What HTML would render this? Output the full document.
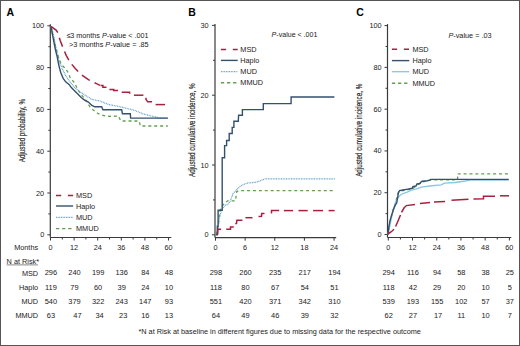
<!DOCTYPE html>
<html><head><meta charset="utf-8"><style>
html,body{margin:0;padding:0;background:#fff;}
svg{display:block;}
text{font-family:"Liberation Sans", sans-serif;fill:#222;}
</style></head><body>
<svg width="520" height="346" viewBox="0 0 520 346">
<rect x="0" y="0" width="520" height="346" fill="#fff"/>
<rect x="0.5" y="0.5" width="519" height="345" fill="none" stroke="#555" stroke-width="1"/>

<text x="6.5" y="15.6" font-size="10.5" font-weight="bold" fill="#000" style="fill:#000">A</text>
<text x="188.2" y="15.6" font-size="10.5" font-weight="bold" style="fill:#000">B</text>
<text x="356.3" y="16" font-size="10.5" font-weight="bold" style="fill:#000">C</text>
<line x1="50.3" y1="24.3" x2="50.3" y2="237.5" stroke="#3a3a3a" stroke-width="1.2"/>
<line x1="50.3" y1="237.5" x2="171.3" y2="237.5" stroke="#3a3a3a" stroke-width="1.2"/>
<line x1="47.3" y1="25.8" x2="50.3" y2="25.8" stroke="#3a3a3a" stroke-width="1"/>
<line x1="47.3" y1="67.6" x2="50.3" y2="67.6" stroke="#3a3a3a" stroke-width="1"/>
<line x1="47.3" y1="109.39999999999999" x2="50.3" y2="109.39999999999999" stroke="#3a3a3a" stroke-width="1"/>
<line x1="47.3" y1="151.2" x2="50.3" y2="151.2" stroke="#3a3a3a" stroke-width="1"/>
<line x1="47.3" y1="193.0" x2="50.3" y2="193.0" stroke="#3a3a3a" stroke-width="1"/>
<line x1="47.3" y1="234.8" x2="50.3" y2="234.8" stroke="#3a3a3a" stroke-width="1"/>
<line x1="48.3" y1="46.7" x2="50.3" y2="46.7" stroke="#3a3a3a" stroke-width="1"/>
<line x1="48.3" y1="88.5" x2="50.3" y2="88.5" stroke="#3a3a3a" stroke-width="1"/>
<line x1="48.3" y1="130.3" x2="50.3" y2="130.3" stroke="#3a3a3a" stroke-width="1"/>
<line x1="48.3" y1="172.1" x2="50.3" y2="172.1" stroke="#3a3a3a" stroke-width="1"/>
<line x1="48.3" y1="213.9" x2="50.3" y2="213.9" stroke="#3a3a3a" stroke-width="1"/>
<line x1="50.5" y1="237.5" x2="50.5" y2="240.5" stroke="#3a3a3a" stroke-width="1"/>
<line x1="74.104" y1="237.5" x2="74.104" y2="240.5" stroke="#3a3a3a" stroke-width="1"/>
<line x1="97.708" y1="237.5" x2="97.708" y2="240.5" stroke="#3a3a3a" stroke-width="1"/>
<line x1="121.312" y1="237.5" x2="121.312" y2="240.5" stroke="#3a3a3a" stroke-width="1"/>
<line x1="144.916" y1="237.5" x2="144.916" y2="240.5" stroke="#3a3a3a" stroke-width="1"/>
<line x1="168.52" y1="237.5" x2="168.52" y2="240.5" stroke="#3a3a3a" stroke-width="1"/>
<line x1="62.302" y1="237.5" x2="62.302" y2="239.5" stroke="#3a3a3a" stroke-width="1"/>
<line x1="85.906" y1="237.5" x2="85.906" y2="239.5" stroke="#3a3a3a" stroke-width="1"/>
<line x1="109.51" y1="237.5" x2="109.51" y2="239.5" stroke="#3a3a3a" stroke-width="1"/>
<line x1="133.114" y1="237.5" x2="133.114" y2="239.5" stroke="#3a3a3a" stroke-width="1"/>
<line x1="156.71800000000002" y1="237.5" x2="156.71800000000002" y2="239.5" stroke="#3a3a3a" stroke-width="1"/>
<text x="44.2" y="28.3" text-anchor="end" font-size="7.3" >100</text>
<text x="44.2" y="70.1" text-anchor="end" font-size="7.3" >80</text>
<text x="44.2" y="111.89999999999999" text-anchor="end" font-size="7.3" >60</text>
<text x="44.2" y="153.7" text-anchor="end" font-size="7.3" >40</text>
<text x="44.2" y="195.5" text-anchor="end" font-size="7.3" >20</text>
<text x="44.2" y="237.3" text-anchor="end" font-size="7.3" >0</text>
<text x="50.5" y="250" text-anchor="middle" font-size="7.3" >0</text>
<text x="74.104" y="250" text-anchor="middle" font-size="7.3" >12</text>
<text x="97.708" y="250" text-anchor="middle" font-size="7.3" >24</text>
<text x="121.312" y="250" text-anchor="middle" font-size="7.3" >36</text>
<text x="144.916" y="250" text-anchor="middle" font-size="7.3" >48</text>
<text x="168.52" y="250" text-anchor="middle" font-size="7.3" >60</text>
<text transform="translate(25.4,162.3) rotate(-90)" font-size="8.3" stroke="#222" stroke-width="0.15" textLength="63.4" lengthAdjust="spacingAndGlyphs">Adjusted probability, %</text>
<text x="66.4" y="38" font-size="7.3" textLength="82.2" lengthAdjust="spacingAndGlyphs">&#8804;3 months <tspan font-style="italic">P</tspan>-value &lt; .001</text>
<text x="69" y="47" font-size="7.3" textLength="79.6" lengthAdjust="spacingAndGlyphs">&gt;3 months <tspan font-style="italic">P</tspan>-value = .85</text>
<polyline points="50.9,26.3 53.0,36.0 56.0,48.0 58.9,58.7 61.5,64.7 64.1,67.3 67.6,71.7 70.2,77.7 74.5,82.9 78.0,89.9 82.3,95.9 86.7,101.1 90.1,107.2 91.3,108.5 98.3,113.7 103.5,115.5 108.0,116.3 118.8,116.2 119.5,118.4 121.0,121.0 139.0,121.0 139.7,123.1 140.4,126.0 167.8,126.0" stroke="#62a050" stroke-width="1.3" stroke-dasharray="3,2.9" fill="none"/>
<polyline points="50.9,26.3 51.6,27.8 53.8,36.5 56.3,50.0 58.9,60.4 62.4,69.1 65.9,76.0 69.3,81.2 74.5,87.3 79.7,91.6 84.9,95.1 91.9,99.4 100.0,101.0 108.7,104.6 117.3,106.1 126.0,108.2 134.7,110.4 143.4,114.0 152.0,116.2 160.7,118.1 167.9,118.1" stroke="#5a9dc9" stroke-width="1.25" stroke-dasharray="0.9,0.75" fill="none"/>
<polyline points="50.9,26.3 52.3,33.6 54.5,45.1 55.5,50.0 57.2,56.9 58.9,65.6 60.7,72.5 63.3,78.6 65.9,82.1 69.3,84.7 71.1,87.3 74.5,90.7 78.0,94.2 81.5,97.7 84.9,100.3 88.4,102.0 91.9,105.5 94.8,106.8 101.7,106.8 102.9,109.7 121.7,109.7 122.4,113.7 130.3,113.7 130.6,118.1 167.9,118.1" stroke="#34506f" stroke-width="1.4" fill="none"/>
<polyline points="50.9,26.3 56.1,30.1 58.1,33.2 60.1,40.2 63.2,48.3 66.2,55.4 70.2,62.5 75.3,68.6 81.3,74.6 88.4,79.7 96.5,83.7 100.0,85.4" stroke="#a8203f" stroke-width="1.5" stroke-dasharray="9.5,5.3" fill="none"/>
<polyline points="100.5,85.6 102.9,85.6 102.9,87.3 106.5,87.3" stroke="#a8203f" stroke-width="1.5" fill="none"/>
<polyline points="109.4,89.5 113.7,89.5 113.7,90.6 118.0,90.6" stroke="#a8203f" stroke-width="1.5" fill="none"/>
<polyline points="121.7,92.3 129.6,92.3 129.6,93.8" stroke="#a8203f" stroke-width="1.5" fill="none"/>
<polyline points="134.0,95.2 143.4,95.2" stroke="#a8203f" stroke-width="1.5" fill="none"/>
<polyline points="146.0,97.8 146.0,99.6 147.7,101.7 152.0,101.7" stroke="#a8203f" stroke-width="1.5" fill="none"/>
<polyline points="155.6,104.6 165.0,104.6" stroke="#a8203f" stroke-width="1.5" fill="none"/>
<line x1="56" y1="195.4" x2="73.1" y2="195.4" stroke="#a8203f" stroke-width="1.5" stroke-dasharray="5.2,6.7" fill="none"/>
<text x="76" y="197.9" text-anchor="start" font-size="7.3" >MSD</text>
<line x1="56" y1="206" x2="73.1" y2="206" stroke="#34506f" stroke-width="1.4" fill="none"/>
<text x="76" y="208.5" text-anchor="start" font-size="7.3" >Haplo</text>
<line x1="56" y1="217.3" x2="73.1" y2="217.3" stroke="#5a9dc9" stroke-width="1.25" stroke-dasharray="0.9,0.75" fill="none"/>
<text x="76" y="219.8" text-anchor="start" font-size="7.3" >MUD</text>
<line x1="56" y1="228.6" x2="73.1" y2="228.6" stroke="#62a050" stroke-width="1.4" stroke-dasharray="3.3,2.8" fill="none"/>
<text x="76" y="231.1" text-anchor="start" font-size="7.3" >MMUD</text>
<line x1="215.0" y1="23.9" x2="215.0" y2="237.7" stroke="#3a3a3a" stroke-width="1.2"/>
<line x1="215.0" y1="237.7" x2="336.2" y2="237.7" stroke="#3a3a3a" stroke-width="1.2"/>
<line x1="212.0" y1="25.400000000000006" x2="215.0" y2="25.400000000000006" stroke="#3a3a3a" stroke-width="1"/>
<line x1="212.0" y1="95.19999999999999" x2="215.0" y2="95.19999999999999" stroke="#3a3a3a" stroke-width="1"/>
<line x1="212.0" y1="165.0" x2="215.0" y2="165.0" stroke="#3a3a3a" stroke-width="1"/>
<line x1="212.0" y1="234.8" x2="215.0" y2="234.8" stroke="#3a3a3a" stroke-width="1"/>
<line x1="213.0" y1="60.30000000000001" x2="215.0" y2="60.30000000000001" stroke="#3a3a3a" stroke-width="1"/>
<line x1="213.0" y1="130.10000000000002" x2="215.0" y2="130.10000000000002" stroke="#3a3a3a" stroke-width="1"/>
<line x1="213.0" y1="199.9" x2="215.0" y2="199.9" stroke="#3a3a3a" stroke-width="1"/>
<line x1="215.5" y1="237.7" x2="215.5" y2="240.7" stroke="#3a3a3a" stroke-width="1"/>
<line x1="245.14" y1="237.7" x2="245.14" y2="240.7" stroke="#3a3a3a" stroke-width="1"/>
<line x1="274.78" y1="237.7" x2="274.78" y2="240.7" stroke="#3a3a3a" stroke-width="1"/>
<line x1="304.42" y1="237.7" x2="304.42" y2="240.7" stroke="#3a3a3a" stroke-width="1"/>
<line x1="334.06" y1="237.7" x2="334.06" y2="240.7" stroke="#3a3a3a" stroke-width="1"/>
<text x="208.6" y="27.900000000000006" text-anchor="end" font-size="7.3" >30</text>
<text x="208.6" y="97.69999999999999" text-anchor="end" font-size="7.3" >20</text>
<text x="208.6" y="167.5" text-anchor="end" font-size="7.3" >10</text>
<text x="208.6" y="237.3" text-anchor="end" font-size="7.3" >0</text>
<text x="215.5" y="250" text-anchor="middle" font-size="7.3" >0</text>
<text x="245.14" y="250" text-anchor="middle" font-size="7.3" >6</text>
<text x="274.78" y="250" text-anchor="middle" font-size="7.3" >12</text>
<text x="304.42" y="250" text-anchor="middle" font-size="7.3" >18</text>
<text x="334.06" y="250" text-anchor="middle" font-size="7.3" >24</text>
<text transform="translate(195.3,177.0) rotate(-90)" font-size="8.3" stroke="#222" stroke-width="0.15" textLength="93.7" lengthAdjust="spacingAndGlyphs">Adjusted cumulative incidence, %</text>
<text x="271.6" y="37.1" font-size="7.3" textLength="45.8" lengthAdjust="spacingAndGlyphs"><tspan font-style="italic">P</tspan>-value &lt; .001</text>
<polyline points="216.0,234.8 218.0,228.0 219.8,211.2 222.0,206.0 225.0,203.0 227.6,200.8 235.4,200.8 236.7,191.7 238.5,190.7 334.7,190.7" stroke="#62a050" stroke-width="1.3" stroke-dasharray="3,2.9" fill="none"/>
<polyline points="216.0,234.8 217.8,229.0 219.2,218.9 220.7,213.1 222.8,208.0 225.0,205.2 227.9,204.5 230.0,201.7 233.2,193.3 236.3,190.1 240.6,185.9 246.9,183.1 255.4,182.3 260.7,180.6 264.9,178.9 334.7,178.9" stroke="#5a9dc9" stroke-width="1.25" stroke-dasharray="0.9,0.75" fill="none"/>
<polyline points="216.0,234.8 217.3,234.8 217.3,226.1 218.1,226.1 218.1,210.2 222.2,210.2 222.2,157.8 224.6,157.8 224.6,145.6 226.6,145.6 226.6,140.5 229.2,140.5 229.2,133.5 232.2,133.5 232.2,127.4 233.9,127.4 233.9,121.3 238.3,121.3 238.6,115.3 242.4,115.3 242.4,109.6 263.3,109.6 263.3,103.6 291.1,103.6 291.1,97.0 334.4,97.0" stroke="#34506f" stroke-width="1.4" fill="none"/>
<polyline points="217.6,234.6 218.0,229.3 221.1,229.3" stroke="#a8203f" stroke-width="1.5" fill="none"/>
<polyline points="226.2,229.3 230.5,229.3 230.5,227.0 233.8,227.0" stroke="#a8203f" stroke-width="1.5" fill="none"/>
<polyline points="235.3,223.9 236.5,223.4 236.9,220.2 242.4,220.2" stroke="#a8203f" stroke-width="1.5" fill="none"/>
<polyline points="245.4,217.7 252.5,217.7" stroke="#a8203f" stroke-width="1.5" fill="none"/>
<polyline points="258.5,216.6 261.5,216.4 261.7,213.4 264.5,213.4" stroke="#a8203f" stroke-width="1.5" fill="none"/>
<polyline points="271.5,213.6 271.5,210.6 279.2,210.6" stroke="#a8203f" stroke-width="1.5" fill="none"/>
<polyline points="283.8,210.6 293.1,210.6" stroke="#a8203f" stroke-width="1.5" fill="none"/>
<polyline points="298.5,210.6 307.7,210.6" stroke="#a8203f" stroke-width="1.5" fill="none"/>
<polyline points="313.1,210.6 323.1,210.6" stroke="#a8203f" stroke-width="1.5" fill="none"/>
<polyline points="328.6,210.6 334.6,210.6" stroke="#a8203f" stroke-width="1.5" fill="none"/>
<line x1="220.9" y1="49.6" x2="237.7" y2="49.6" stroke="#a8203f" stroke-width="1.5" stroke-dasharray="5.2,6.7" fill="none"/>
<text x="240.3" y="52.1" text-anchor="start" font-size="7.3" >MSD</text>
<line x1="220.9" y1="60.4" x2="237.7" y2="60.4" stroke="#34506f" stroke-width="1.4" fill="none"/>
<text x="240.3" y="62.9" text-anchor="start" font-size="7.3" >Haplo</text>
<line x1="220.9" y1="71.5" x2="237.7" y2="71.5" stroke="#5a9dc9" stroke-width="1.25" stroke-dasharray="0.9,0.75" fill="none"/>
<text x="240.3" y="74.0" text-anchor="start" font-size="7.3" >MUD</text>
<line x1="220.9" y1="82.7" x2="237.7" y2="82.7" stroke="#62a050" stroke-width="1.4" stroke-dasharray="3.3,2.8" fill="none"/>
<text x="240.3" y="85.2" text-anchor="start" font-size="7.3" >MMUD</text>
<line x1="387.5" y1="24.1" x2="387.5" y2="237.5" stroke="#3a3a3a" stroke-width="1.2"/>
<line x1="387.5" y1="237.5" x2="511.3" y2="237.5" stroke="#3a3a3a" stroke-width="1.2"/>
<line x1="384.5" y1="25.6" x2="387.5" y2="25.6" stroke="#3a3a3a" stroke-width="1"/>
<line x1="384.5" y1="67.38" x2="387.5" y2="67.38" stroke="#3a3a3a" stroke-width="1"/>
<line x1="384.5" y1="109.16" x2="387.5" y2="109.16" stroke="#3a3a3a" stroke-width="1"/>
<line x1="384.5" y1="150.94" x2="387.5" y2="150.94" stroke="#3a3a3a" stroke-width="1"/>
<line x1="384.5" y1="192.72" x2="387.5" y2="192.72" stroke="#3a3a3a" stroke-width="1"/>
<line x1="384.5" y1="234.5" x2="387.5" y2="234.5" stroke="#3a3a3a" stroke-width="1"/>
<line x1="385.5" y1="46.49" x2="387.5" y2="46.49" stroke="#3a3a3a" stroke-width="1"/>
<line x1="385.5" y1="88.27000000000001" x2="387.5" y2="88.27000000000001" stroke="#3a3a3a" stroke-width="1"/>
<line x1="385.5" y1="130.05" x2="387.5" y2="130.05" stroke="#3a3a3a" stroke-width="1"/>
<line x1="385.5" y1="171.82999999999998" x2="387.5" y2="171.82999999999998" stroke="#3a3a3a" stroke-width="1"/>
<line x1="385.5" y1="213.60999999999999" x2="387.5" y2="213.60999999999999" stroke="#3a3a3a" stroke-width="1"/>
<line x1="388.3" y1="237.5" x2="388.3" y2="240.5" stroke="#3a3a3a" stroke-width="1"/>
<line x1="412.516" y1="237.5" x2="412.516" y2="240.5" stroke="#3a3a3a" stroke-width="1"/>
<line x1="436.732" y1="237.5" x2="436.732" y2="240.5" stroke="#3a3a3a" stroke-width="1"/>
<line x1="460.948" y1="237.5" x2="460.948" y2="240.5" stroke="#3a3a3a" stroke-width="1"/>
<line x1="485.164" y1="237.5" x2="485.164" y2="240.5" stroke="#3a3a3a" stroke-width="1"/>
<line x1="509.38" y1="237.5" x2="509.38" y2="240.5" stroke="#3a3a3a" stroke-width="1"/>
<line x1="400.408" y1="237.5" x2="400.408" y2="239.5" stroke="#3a3a3a" stroke-width="1"/>
<line x1="424.624" y1="237.5" x2="424.624" y2="239.5" stroke="#3a3a3a" stroke-width="1"/>
<line x1="448.84000000000003" y1="237.5" x2="448.84000000000003" y2="239.5" stroke="#3a3a3a" stroke-width="1"/>
<line x1="473.056" y1="237.5" x2="473.056" y2="239.5" stroke="#3a3a3a" stroke-width="1"/>
<line x1="497.272" y1="237.5" x2="497.272" y2="239.5" stroke="#3a3a3a" stroke-width="1"/>
<text x="381.6" y="28.1" text-anchor="end" font-size="7.3" >100</text>
<text x="381.6" y="69.88" text-anchor="end" font-size="7.3" >80</text>
<text x="381.6" y="111.66" text-anchor="end" font-size="7.3" >60</text>
<text x="381.6" y="153.44" text-anchor="end" font-size="7.3" >40</text>
<text x="381.6" y="195.22" text-anchor="end" font-size="7.3" >20</text>
<text x="381.6" y="237.0" text-anchor="end" font-size="7.3" >0</text>
<text x="388.3" y="250" text-anchor="middle" font-size="7.3" >0</text>
<text x="412.516" y="250" text-anchor="middle" font-size="7.3" >12</text>
<text x="436.732" y="250" text-anchor="middle" font-size="7.3" >24</text>
<text x="460.948" y="250" text-anchor="middle" font-size="7.3" >36</text>
<text x="485.164" y="250" text-anchor="middle" font-size="7.3" >48</text>
<text x="509.38" y="250" text-anchor="middle" font-size="7.3" >60</text>
<text transform="translate(362.4,176.8) rotate(-90)" font-size="8.3" stroke="#222" stroke-width="0.15" textLength="93" lengthAdjust="spacingAndGlyphs">Adjusted cumulative incidence, %</text>
<text x="491.6" y="37.6" text-anchor="end" font-size="7.3"><tspan font-style="italic">P</tspan>-value = .03</text>
<polyline points="388.0,234.5 390.0,222.0 393.0,210.0 395.1,205.4 397.5,194.0 400.0,191.0 406.5,190.0 412.3,189.0 417.0,185.0 422.1,182.0 429.6,180.5 431.0,179.8 457.6,179.8 457.6,173.8 508.8,173.8" stroke="#62a050" stroke-width="1.3" stroke-dasharray="3,2.9" fill="none"/>
<polyline points="388.0,234.5 390.0,225.0 392.0,215.0 394.0,207.0 396.0,201.0 397.9,198.0 399.6,195.8 401.9,194.0 406.5,192.3 412.3,190.0 418.1,188.3 421.5,187.1 429.6,186.0 441.1,184.8 444.6,183.1 455.0,182.5 465.0,181.0 470.0,180.0 508.7,180.0" stroke="#88c6e6" stroke-width="1.3" fill="none"/>
<polyline points="388.0,234.5 389.0,226.0 390.0,220.6 393.1,210.5 395.1,205.4 396.7,203.0 398.5,192.3 399.6,190.6 403.0,190.0 406.5,189.4 412.3,188.3 412.9,186.5 416.0,186.0 417.0,184.0 420.0,183.5 421.0,182.0 422.1,181.3 427.3,180.8 429.6,180.2 430.8,179.4 508.7,179.4" stroke="#34506f" stroke-width="1.4" fill="none"/>
<polyline points="387.8,234.0 391.0,232.0 394.0,229.3" stroke="#a8203f" stroke-width="1.5" fill="none"/>
<polyline points="395.6,226.5 398.0,221.0 400.5,215.0" stroke="#a8203f" stroke-width="1.5" fill="none"/>
<polyline points="401.5,212.3 404.0,208.0 406.3,205.6 415.0,204.6" stroke="#a8203f" stroke-width="1.5" fill="none"/>
<polyline points="420.0,203.4 430.0,202.6" stroke="#a8203f" stroke-width="1.5" fill="none"/>
<polyline points="434.0,202.0 445.0,201.6" stroke="#a8203f" stroke-width="1.5" fill="none"/>
<polyline points="451.5,200.3 468.5,199.3" stroke="#a8203f" stroke-width="1.5" fill="none"/>
<polyline points="473.5,199.1 483.5,198.7 483.5,196.2 495.0,196.2" stroke="#a8203f" stroke-width="1.5" fill="none"/>
<polyline points="500.0,195.8 509.0,195.8" stroke="#a8203f" stroke-width="1.5" fill="none"/>
<line x1="391.9" y1="49.2" x2="409.3" y2="49.2" stroke="#a8203f" stroke-width="1.5" stroke-dasharray="5.2,6.7" fill="none"/>
<text x="412.4" y="51.7" text-anchor="start" font-size="7.3" >MSD</text>
<line x1="391.9" y1="60.6" x2="409.3" y2="60.6" stroke="#34506f" stroke-width="1.4" fill="none"/>
<text x="412.4" y="63.1" text-anchor="start" font-size="7.3" >Haplo</text>
<line x1="391.9" y1="71.7" x2="409.3" y2="71.7" stroke="#88c6e6" stroke-width="1.3" fill="none"/>
<text x="412.4" y="74.2" text-anchor="start" font-size="7.3" >MUD</text>
<line x1="391.9" y1="83.2" x2="409.3" y2="83.2" stroke="#62a050" stroke-width="1.4" stroke-dasharray="3.3,2.8" fill="none"/>
<text x="412.4" y="85.7" text-anchor="start" font-size="7.3" >MMUD</text>
<text x="38.1" y="250" text-anchor="end" font-size="7.3">Months</text>
<text x="6.6" y="263.6" font-size="7.3">N at Risk*</text>
<line x1="6.6" y1="264.9" x2="38" y2="264.9" stroke="#555" stroke-width="0.7"/>
<text x="38.1" y="275.7" text-anchor="end" font-size="7.3" >MSD</text>
<text x="38.1" y="289.9" text-anchor="end" font-size="7.3" >Haplo</text>
<text x="38.1" y="304.0" text-anchor="end" font-size="7.3" >MUD</text>
<text x="38.1" y="318.0" text-anchor="end" font-size="7.3" >MMUD</text>
<text x="50.9" y="275.3" text-anchor="middle" font-size="7.45" >296</text>
<text x="74.5" y="275.3" text-anchor="middle" font-size="7.45" >240</text>
<text x="98.1" y="275.3" text-anchor="middle" font-size="7.45" >199</text>
<text x="121.7" y="275.3" text-anchor="middle" font-size="7.45" >136</text>
<text x="145.3" y="275.3" text-anchor="middle" font-size="7.45" >84</text>
<text x="168.9" y="275.3" text-anchor="middle" font-size="7.45" >48</text>
<text x="50.9" y="289.5" text-anchor="middle" font-size="7.45" >119</text>
<text x="74.5" y="289.5" text-anchor="middle" font-size="7.45" >79</text>
<text x="98.1" y="289.5" text-anchor="middle" font-size="7.45" >60</text>
<text x="121.7" y="289.5" text-anchor="middle" font-size="7.45" >39</text>
<text x="145.3" y="289.5" text-anchor="middle" font-size="7.45" >24</text>
<text x="168.9" y="289.5" text-anchor="middle" font-size="7.45" >10</text>
<text x="50.9" y="303.6" text-anchor="middle" font-size="7.45" >540</text>
<text x="74.5" y="303.6" text-anchor="middle" font-size="7.45" >379</text>
<text x="98.1" y="303.6" text-anchor="middle" font-size="7.45" >322</text>
<text x="121.7" y="303.6" text-anchor="middle" font-size="7.45" >243</text>
<text x="145.3" y="303.6" text-anchor="middle" font-size="7.45" >147</text>
<text x="168.9" y="303.6" text-anchor="middle" font-size="7.45" >93</text>
<text x="50.9" y="317.6" text-anchor="middle" font-size="7.45" >63</text>
<text x="77.5" y="317.6" text-anchor="middle" font-size="7.45" >47</text>
<text x="99.6" y="317.6" text-anchor="middle" font-size="7.45" >34</text>
<text x="123.2" y="317.6" text-anchor="middle" font-size="7.45" >23</text>
<text x="145.3" y="317.6" text-anchor="middle" font-size="7.45" >16</text>
<text x="168.9" y="317.6" text-anchor="middle" font-size="7.45" >13</text>
<text x="215.9" y="275.3" text-anchor="middle" font-size="7.45" >298</text>
<text x="245.5" y="275.3" text-anchor="middle" font-size="7.45" >260</text>
<text x="275.2" y="275.3" text-anchor="middle" font-size="7.45" >235</text>
<text x="304.8" y="275.3" text-anchor="middle" font-size="7.45" >217</text>
<text x="334.5" y="275.3" text-anchor="middle" font-size="7.45" >194</text>
<text x="215.9" y="289.5" text-anchor="middle" font-size="7.45" >118</text>
<text x="245.5" y="289.5" text-anchor="middle" font-size="7.45" >80</text>
<text x="275.2" y="289.5" text-anchor="middle" font-size="7.45" >67</text>
<text x="304.8" y="289.5" text-anchor="middle" font-size="7.45" >54</text>
<text x="334.5" y="289.5" text-anchor="middle" font-size="7.45" >51</text>
<text x="215.9" y="303.6" text-anchor="middle" font-size="7.45" >551</text>
<text x="245.5" y="303.6" text-anchor="middle" font-size="7.45" >420</text>
<text x="275.2" y="303.6" text-anchor="middle" font-size="7.45" >371</text>
<text x="304.8" y="303.6" text-anchor="middle" font-size="7.45" >342</text>
<text x="334.5" y="303.6" text-anchor="middle" font-size="7.45" >310</text>
<text x="215.9" y="317.6" text-anchor="middle" font-size="7.45" >64</text>
<text x="245.5" y="317.6" text-anchor="middle" font-size="7.45" >49</text>
<text x="275.2" y="317.6" text-anchor="middle" font-size="7.45" >46</text>
<text x="304.8" y="317.6" text-anchor="middle" font-size="7.45" >39</text>
<text x="334.5" y="317.6" text-anchor="middle" font-size="7.45" >32</text>
<text x="388.7" y="275.3" text-anchor="middle" font-size="7.45" >294</text>
<text x="412.9" y="275.3" text-anchor="middle" font-size="7.45" >116</text>
<text x="437.1" y="275.3" text-anchor="middle" font-size="7.45" >94</text>
<text x="461.3" y="275.3" text-anchor="middle" font-size="7.45" >58</text>
<text x="485.6" y="275.3" text-anchor="middle" font-size="7.45" >38</text>
<text x="509.8" y="275.3" text-anchor="middle" font-size="7.45" >25</text>
<text x="388.7" y="289.5" text-anchor="middle" font-size="7.45" >118</text>
<text x="412.9" y="289.5" text-anchor="middle" font-size="7.45" >42</text>
<text x="437.1" y="289.5" text-anchor="middle" font-size="7.45" >29</text>
<text x="461.3" y="289.5" text-anchor="middle" font-size="7.45" >20</text>
<text x="485.6" y="289.5" text-anchor="middle" font-size="7.45" >10</text>
<text x="509.8" y="289.5" text-anchor="middle" font-size="7.45" >5</text>
<text x="388.7" y="303.6" text-anchor="middle" font-size="7.45" >539</text>
<text x="412.9" y="303.6" text-anchor="middle" font-size="7.45" >193</text>
<text x="437.1" y="303.6" text-anchor="middle" font-size="7.45" >155</text>
<text x="461.3" y="303.6" text-anchor="middle" font-size="7.45" >102</text>
<text x="485.6" y="303.6" text-anchor="middle" font-size="7.45" >57</text>
<text x="509.8" y="303.6" text-anchor="middle" font-size="7.45" >37</text>
<text x="388.7" y="317.6" text-anchor="middle" font-size="7.45" >62</text>
<text x="412.9" y="317.6" text-anchor="middle" font-size="7.45" >27</text>
<text x="438.1" y="317.6" text-anchor="middle" font-size="7.45" >17</text>
<text x="461.3" y="317.6" text-anchor="middle" font-size="7.45" >11</text>
<text x="485.6" y="317.6" text-anchor="middle" font-size="7.45" >10</text>
<text x="509.8" y="317.6" text-anchor="middle" font-size="7.45" >7</text>
<text x="138.5" y="334.4" font-size="7.2" textLength="282.3" lengthAdjust="spacingAndGlyphs">*N at Risk at baseline in different figures due to missing data for the respective outcome</text>
</svg></body></html>
